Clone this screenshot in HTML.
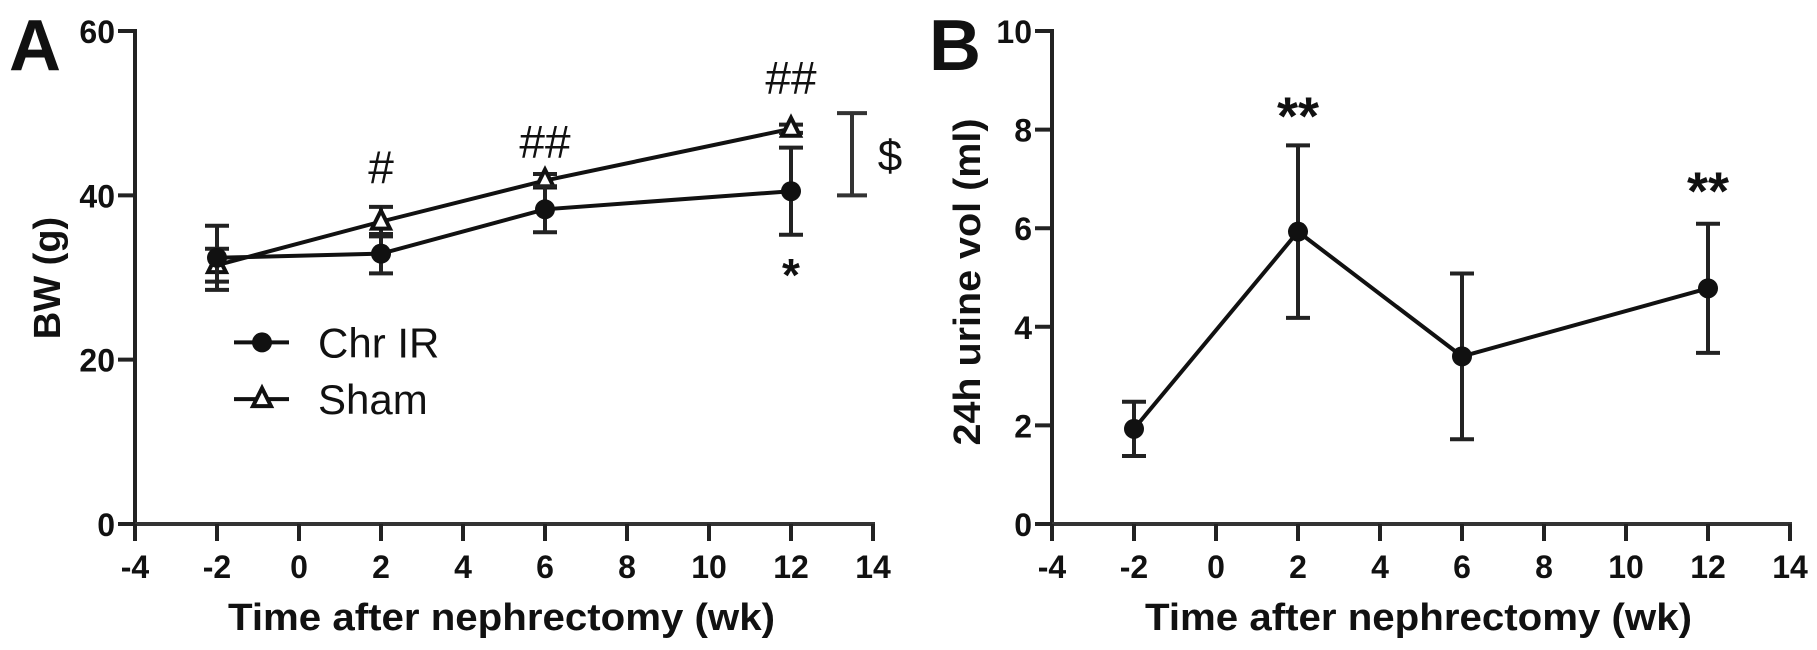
<!DOCTYPE html>
<html><head><meta charset="utf-8"><style>
html,body{margin:0;padding:0;background:#fff;}
svg{display:block;font-family:"Liberation Sans",sans-serif;}
</style></head><body>
<svg id="fig" width="1817" height="650" viewBox="0 0 1817 650"></svg>
<script>
const weeks = [-2, 2, 6, 12];
const chrMean = [32.4, 32.9, 38.3, 40.5];
const chrErr = [3.9, 2.4, 2.8, 5.3];
const shamMean = [31.5, 36.8, 41.8, 48.1];
const shamErr = [2.0, 1.8, 0.8, 0.5];
const urineMean = [1.93, 5.93, 3.4, 4.78];
const urineErr = [0.55, 1.75, 1.68, 1.31];
const xTicks = [-4, -2, 0, 2, 4, 6, 8, 10, 12, 14];
const yTicksA = [0, 20, 40, 60];
const yTicksB = [0, 2, 4, 6, 8, 10];

const NS = 'http://www.w3.org/2000/svg';
const svg = document.getElementById('fig');
function mk(tag, attrs, parent){
  const e = document.createElementNS(NS, tag);
  for (const k in attrs) e.setAttribute(k, attrs[k]);
  (parent||svg).appendChild(e);
  return e;
}
function txt(s, x, y, size, weight, anchor, parent){
  const t = mk('text', {x:x, y:y, 'font-size':size, 'font-weight':weight, 'text-anchor':anchor||'middle', fill:'#111'}, parent);
  t.textContent = s;
  return t;
}

function panel(x0, unit, yTop, yBot, yMax, yTicks, name){
  const g = mk('g', {});
  
  
  const sx = v => x0 + (v + 4) * unit;
  const sy = v => yBot - v / yMax * (yBot - yTop);
  const ax = mk('g', {}, g);
  
  
  mk('line', {x1:x0, y1:yTop-2, x2:x0, y2:yBot+17, stroke:'#222', 'stroke-width':4}, ax);
  mk('line', {x1:x0-17, y1:yBot, x2:sx(14)+2, y2:yBot, stroke:'#333', 'stroke-width':4}, ax);
  yTicks.forEach(v => {
    mk('line', {x1:x0-17, y1:sy(v), x2:x0, y2:sy(v), stroke:'#222', 'stroke-width':4}, ax);
    const t = txt(String(v), x0-20, sy(v)+12, 32, 'bold', 'end', ax);
    
    
  });
  xTicks.forEach(v => {
    mk('line', {x1:sx(v), y1:yBot, x2:sx(v), y2:yBot+17, stroke:'#222', 'stroke-width':4}, ax);
    const t = txt(String(v), sx(v), 578, 32, 'bold', 'middle', ax);
    
    
  });
  const xt = txt('Time after nephrectomy (wk)', x0 + 93, 630, 38, 'bold', 'start', g);
  xt.setAttribute('textLength', 547);
  xt.setAttribute('lengthAdjust', 'spacingAndGlyphs');
  
  
  return {g, sx, sy};
}

function series(P, xs, m, e, marker, name){
  const g = mk('g', {}, P.g);
  
  
  const pts = xs.map((x,i) => P.sx(x) + ',' + P.sy(m[i])).join(' ');
  mk('polyline', {points:pts, fill:'none', stroke:'#111', 'stroke-width':4}, g);
  xs.forEach((x,i) => {
    const cx = P.sx(x), t = P.sy(m[i]+e[i]), b = P.sy(m[i]-e[i]);
    mk('line', {x1:cx, y1:t, x2:cx, y2:b, stroke:'#222', 'stroke-width':4}, g);
    mk('line', {x1:cx-12, y1:t, x2:cx+12, y2:t, stroke:'#222', 'stroke-width':4}, g);
    mk('line', {x1:cx-12, y1:b, x2:cx+12, y2:b, stroke:'#222', 'stroke-width':4}, g);
    const cy = P.sy(m[i]);
    let mkEl;
    if (marker === 'circle') mkEl = mk('circle', {cx:cx, cy:cy, r:10, fill:'#111'}, g);
    else mkEl = mk('polygon', {points:`${cx},${cy-11} ${cx-9},${cy+7} ${cx+9},${cy+7}`, fill:'#fff', stroke:'#111', 'stroke-width':4}, g);
    
    
  });
}

// Panel A
const A = panel(135, 41, 31, 524, 60, yTicksA, 'panel-a');
const la = txt('A', 35, 70, 72, 'bold', 'middle', A.g);


const ya = txt('BW (g)', 0, 0, 38, 'bold', 'middle', A.g);
ya.setAttribute('transform', 'translate(60,278) rotate(-90)');


series(A, weeks, shamMean, shamErr, 'tri', 'sham-series');
series(A, weeks, chrMean, chrErr, 'circle', 'chr-ir-series');
[['#', 2, 43.4], ['##', 6, 46.5], ['##', 12, 54.3]].forEach(a => {
  const t = txt(a[0], A.sx(a[1]), A.sy(a[2]) + 16, 46, 'normal', 'middle', A.g);
  
  
});
const st = txt('*', A.sx(12), A.sy(31.3) + 24, 46, 'bold', 'middle', A.g);


const br = mk('g', {}, A.g);


mk('line', {x1:852, y1:A.sy(50), x2:852, y2:A.sy(40), stroke:'#333', 'stroke-width':4}, br);
mk('line', {x1:837, y1:A.sy(50), x2:867, y2:A.sy(50), stroke:'#333', 'stroke-width':4}, br);
mk('line', {x1:837, y1:A.sy(40), x2:867, y2:A.sy(40), stroke:'#333', 'stroke-width':4}, br);
txt('$', 890, A.sy(45) + 16, 44, 'normal', 'middle', br);
const lg = mk('g', {}, A.g);


const l1 = A.sy(22.1), l2 = A.sy(15.2);
mk('line', {x1:234, y1:l1, x2:289, y2:l1, stroke:'#111', 'stroke-width':4}, lg);
mk('circle', {cx:262, cy:l1, r:10, fill:'#111'}, lg);
txt('Chr IR', 318, l1+15, 42, 'normal', 'start', lg);
mk('line', {x1:234, y1:l2, x2:289, y2:l2, stroke:'#111', 'stroke-width':4}, lg);
mk('polygon', {points:`262,${l2-11} 253,${l2+7} 271,${l2+7}`, fill:'#fff', stroke:'#111', 'stroke-width':4}, lg);
txt('Sham', 318, l2+15, 42, 'normal', 'start', lg);

// Panel B
const B = panel(1052, 41, 31, 524, 10, yTicksB, 'panel-b');
const lb = txt('B', 955, 70, 72, 'bold', 'middle', B.g);


const yb = txt('24h urine vol (ml)', 0, 0, 38, 'bold', 'middle', B.g);
yb.setAttribute('transform', 'translate(980,282) rotate(-90)');
yb.setAttribute('textLength', 327);
yb.setAttribute('lengthAdjust', 'spacingAndGlyphs');


series(B, weeks, urineMean, urineErr, 'circle', 'urine-series');
[[2, 8.45], [12, 6.93]].forEach(a => {
  const t = txt('**', B.sx(a[0]), B.sy(a[1]) + 27, 54, 'bold', 'middle', B.g);
  
  
});
</script>
</body></html>
